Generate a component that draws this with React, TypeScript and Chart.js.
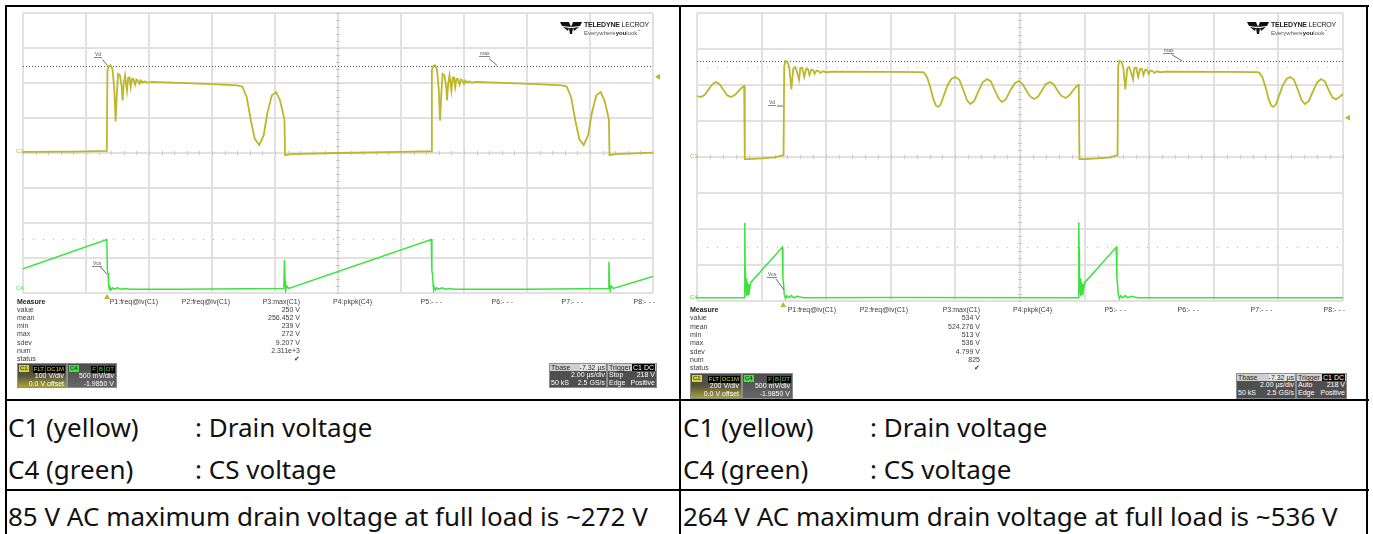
import React, { useEffect, useRef } from "react";
import { Chart, registerables } from "chart.js";
Chart.register(...registerables);

// ---------------- DATA ----------------
// Left capture (85 V AC): time in µs (2 µs/div), C1 drain volts, C4 CS volts
const leftDrainTime = [0, 1.6, 2.66, 2.68, 2.72, 2.78, 2.84, 2.9, 2.94, 2.98, 3.02, 3.08, 3.14, 3.16, 3.2, 3.24, 3.3, 3.34, 3.38, 3.42, 3.46, 3.5, 3.56, 3.6, 3.64, 3.7, 3.74, 3.8, 3.86, 3.94, 4.1, 6.0, 6.8, 6.96, 7.1, 7.24, 7.36, 7.5, 7.64, 7.76, 7.9, 8.04, 8.16, 8.24, 8.3, 8.32, 8.5, 10.0, 12.0, 12.96, 12.98, 13.02, 13.08, 13.14, 13.2, 13.24, 13.28, 13.32, 13.38, 13.44, 13.46, 13.5, 13.54, 13.6, 13.64, 13.68, 13.72, 13.76, 13.8, 13.86, 13.9, 13.94, 14.0, 14.04, 14.1, 14.16, 14.24, 14.4, 16.3, 17.1, 17.26, 17.4, 17.54, 17.66, 17.8, 17.94, 18.06, 18.2, 18.34, 18.46, 18.54, 18.6, 18.62, 18.8, 20.0];
const leftDrainVolts = [3, 4, 6, 235, 248, 251, 240, 180, 90, 170, 226, 222, 185, 150, 200, 222, 178, 215, 216, 188, 212, 212, 195, 210, 208, 198, 207, 201, 205, 201, 203, 197, 193, 190, 160, 90, 40, 23, 50, 115, 165, 174, 150, 120, 95, -6, -3, 0, 3, 5, 235, 248, 251, 240, 180, 92, 170, 226, 222, 185, 150, 200, 222, 178, 215, 216, 188, 212, 212, 195, 210, 208, 198, 207, 201, 205, 201, 203, 197, 193, 190, 160, 90, 40, 23, 50, 115, 165, 174, 150, 120, 95, -6, -3, 1];
const leftCsTime = [0, 2.66, 2.68, 2.7, 2.72, 2.74, 2.76, 2.8, 2.84, 2.9, 3.0, 3.1, 3.24, 3.4, 5.0, 7.0, 8.28, 8.3, 8.32, 8.34, 8.38, 8.44, 12.96, 12.98, 13.0, 13.02, 13.04, 13.06, 13.1, 13.14, 13.2, 13.3, 13.4, 13.54, 13.7, 16.0, 18.58, 18.6, 18.62, 18.64, 18.68, 18.74, 20.0];
const leftCsVolts = [0.33, 0.75, 0.3, 0.26, 0.1, 0.03, 0.07, 0.03, 0.06, 0.04, 0.06, 0.04, 0.05, 0.04, 0.04, 0.045, 0.05, 0.46, 0.15, 0.02, 0.08, 0.05, 0.75, 0.3, 0.26, 0.1, 0.03, 0.07, 0.03, 0.06, 0.04, 0.06, 0.04, 0.05, 0.04, 0.04, 0.05, 0.43, 0.15, 0.02, 0.08, 0.05, 0.22];

// Right capture (264 V AC)
const rightDrainTime = [0, 0.12, 0.24, 0.36, 0.48, 0.58, 0.7, 0.82, 0.94, 1.06, 1.18, 1.3, 1.42, 1.46, 1.48, 1.6, 2.0, 2.4, 2.62, 2.68, 2.7, 2.74, 2.8, 2.86, 2.92, 2.98, 3.04, 3.1, 3.16, 3.2, 3.26, 3.32, 3.38, 3.44, 3.48, 3.54, 3.6, 3.64, 3.7, 3.76, 3.82, 3.9, 4.0, 4.2, 6.0, 6.9, 7.02, 7.12, 7.22, 7.32, 7.4, 7.46, 7.54, 7.64, 7.76, 7.88, 8.0, 8.12, 8.24, 8.36, 8.46, 8.58, 8.7, 8.84, 8.98, 9.1, 9.22, 9.34, 9.44, 9.56, 9.7, 9.84, 9.96, 10.08, 10.2, 10.32, 10.44, 10.56, 10.68, 10.8, 10.92, 11.04, 11.16, 11.28, 11.42, 11.54, 11.66, 11.78, 11.82, 11.84, 12.0, 12.4, 12.8, 12.96, 13.02, 13.04, 13.08, 13.14, 13.2, 13.26, 13.32, 13.38, 13.44, 13.5, 13.54, 13.6, 13.66, 13.72, 13.78, 13.82, 13.88, 13.94, 13.98, 14.04, 14.1, 14.16, 14.24, 14.34, 14.54, 16.4, 17.28, 17.4, 17.5, 17.6, 17.7, 17.78, 17.84, 17.92, 18.02, 18.14, 18.26, 18.36, 18.48, 18.6, 18.72, 18.82, 18.94, 19.06, 19.2, 19.32, 19.44, 19.56, 19.68, 19.78, 19.9, 20.0];
const rightDrainVolts = [338, 333, 345, 375, 405, 417, 405, 372, 342, 333, 345, 370, 390, 394, -12, -12, -8, -2, 8, 10, 505, 534, 530, 495, 376, 490, 500, 470, 430, 495, 495, 445, 490, 488, 455, 485, 482, 462, 480, 478, 467, 476, 471, 474, 473, 472, 470, 445, 390, 320, 285, 278, 290, 340, 400, 435, 444, 430, 375, 315, 294, 310, 360, 415, 433, 420, 370, 325, 306, 320, 370, 410, 422, 405, 368, 335, 322, 335, 370, 405, 417, 405, 370, 340, 328, 345, 375, 398, 400, -12, -12, -8, -2, 8, 10, 505, 534, 530, 495, 376, 490, 500, 470, 430, 495, 495, 445, 490, 488, 455, 485, 482, 462, 480, 478, 467, 476, 471, 474, 473, 472, 470, 445, 390, 320, 285, 278, 290, 340, 400, 435, 444, 430, 375, 315, 294, 310, 360, 415, 433, 420, 370, 330, 320, 335, 350];
const rightCsTime = [0, 1.46, 1.48, 1.49, 1.5, 1.52, 1.54, 1.56, 1.58, 1.6, 1.62, 1.66, 2.64, 2.66, 2.68, 2.7, 2.74, 2.78, 2.84, 2.92, 3.0, 3.1, 3.3, 6.0, 11.8, 11.82, 11.83, 11.84, 11.86, 11.88, 11.9, 11.92, 11.94, 11.96, 12.0, 12.98, 13.0, 13.02, 13.04, 13.08, 13.12, 13.18, 13.26, 13.34, 13.44, 13.64, 20.0];
const rightCsVolts = [0.03, 0.03, 1.07, 0.45, 0.1, 0.3, 0.05, 0.25, 0.08, 0.22, 0.12, 0.24, 0.73, 0.3, 0.22, 0.08, 0.02, 0.06, 0.03, 0.06, 0.03, 0.05, 0.03, 0.035, 0.03, 1.08, 0.7, 0.1, 0.3, 0.05, 0.25, 0.08, 0.22, 0.12, 0.24, 0.73, 0.3, 0.22, 0.08, 0.02, 0.06, 0.03, 0.06, 0.03, 0.05, 0.03, 0.03];

// Measurement table text
const measureRows = ["value", "mean", "min", "max", "sdev", "num", "status"];
const paramHeaders = ["P1:freq@lv(C1)", "P2:freq@lv(C1)", "P3:max(C1)", "P4:pkpk(C4)", "P5:- - -", "P6:- - -", "P7:- - -", "P8:- - -"];
const leftP3Values = ["250 V", "256.452 V", "239 V", "272 V", "9.207 V", "2.311e+3", "\u2714"];
const rightP3Values = ["534 V", "524.276 V", "513 V", "536 V", "4.799 V", "825", "\u2714"];

// ---------------- STYLE ----------------
const C1_COLOR = "#bdb72b";
const C4_COLOR = "#3ee23e";
const GRID_COLOR = "#e1e1e1";
const SCOPE_FONT = "'Liberation Sans', Arial, sans-serif";
const TABLE_FONT = "'Noto Sans', 'Open Sans', sans-serif";

const toPoints = (t: number[], v: number[]) => t.map((x, i) => ({ x, y: v[i] }));

const scopeExtras = {
  id: "scopeExtras",
  beforeDatasetsDraw(chart: any, _a: any, o: any) {
    const { ctx, chartArea: a, scales } = chart;
    const xs = scales.x, ys = scales.y, y2 = scales.y2;
    ctx.save();
    const cx = xs.getPixelForValue(10);
    const cy = ys.getPixelForValue(0);
    ctx.strokeStyle = "#c8c8c8";
    ctx.lineWidth = 1;
    for (let i = 0; i <= 50; i++) {
      const px = Math.round(a.left + (i * (a.right - a.left)) / 50) + 0.5;
      ctx.beginPath();
      ctx.moveTo(px, cy - 2);
      ctx.lineTo(px, cy + 2);
      ctx.stroke();
    }
    for (let i = 0; i <= 40; i++) {
      const py = Math.round(a.top + (i * (a.bottom - a.top)) / 40) + 0.5;
      ctx.beginPath();
      ctx.moveTo(cx - 2, py);
      ctx.lineTo(cx + 2, py);
      ctx.stroke();
    }
    ctx.setLineDash([1, 9]);
    ctx.strokeStyle = "#bdbdbd";
    for (const lv of o.faintC1 || []) {
      const py = Math.round(ys.getPixelForValue(lv)) + 0.5;
      ctx.beginPath(); ctx.moveTo(a.left, py); ctx.lineTo(a.right, py); ctx.stroke();
    }
    for (const lv of o.faintC4 || []) {
      const py = Math.round(y2.getPixelForValue(lv)) + 0.5;
      ctx.beginPath(); ctx.moveTo(a.left, py); ctx.lineTo(a.right, py); ctx.stroke();
    }
    ctx.setLineDash([1, 2]);
    ctx.strokeStyle = "#555";
    const my = Math.round(ys.getPixelForValue(o.cursorV)) + 0.5;
    ctx.beginPath(); ctx.moveTo(a.left, my); ctx.lineTo(a.right, my); ctx.stroke();
    ctx.restore();
  },
  afterDatasetsDraw(chart: any, _a: any, o: any) {
    const { ctx, chartArea: a, scales } = chart;
    const xs = scales.x, ys = scales.y, y2 = scales.y2;
    ctx.save();
    ctx.fillStyle = C1_COLOR;
    const ty = ys.getPixelForValue(o.triggerV);
    ctx.beginPath();
    ctx.moveTo(a.right + 2, ty);
    ctx.lineTo(a.right + 7, ty - 3);
    ctx.lineTo(a.right + 7, ty + 3);
    ctx.closePath();
    ctx.fill();
    const tx = xs.getPixelForValue(o.triggerT);
    ctx.beginPath();
    ctx.moveTo(tx, a.bottom + 1);
    ctx.lineTo(tx - 3, a.bottom + 6);
    ctx.lineTo(tx + 3, a.bottom + 6);
    ctx.closePath();
    ctx.fill();
    ctx.strokeStyle = "#6a6a6a";
    ctx.lineWidth = 1;
    for (const l of o.leaders || []) {
      const scale = l.ch === 4 ? y2 : ys;
      const px = xs.getPixelForValue(l.t);
      const py = scale.getPixelForValue(l.v);
      ctx.beginPath();
      ctx.moveTo(px + l.dx, py + l.dy);
      ctx.lineTo(px, py);
      ctx.stroke();
    }
    ctx.restore();
  },
};

type ScopeProps = {
  left: number; top: number; width: number; height: number;
  padding: { left: number; right: number; top: number; bottom: number };
  drainT: number[]; drainV: number[]; csT: number[]; csV: number[];
  vPerDiv: number; extras: any;
};

function ScopeChart(p: ScopeProps) {
  const ref = useRef<HTMLCanvasElement>(null);
  useEffect(() => {
    if (!ref.current) return;
    const grid = { color: GRID_COLOR, lineWidth: 2, drawTicks: false };
    const chart = new Chart(ref.current, {
      type: "line",
      data: {
        datasets: [
          { data: toPoints(p.drainT, p.drainV), borderColor: C1_COLOR, borderWidth: 1.8, yAxisID: "y", pointRadius: 0, tension: 0 },
          { data: toPoints(p.csT, p.csV), borderColor: C4_COLOR, borderWidth: 1.5, yAxisID: "y2", pointRadius: 0, tension: 0 },
        ],
      },
      options: {
        animation: false,
        responsive: false,
        maintainAspectRatio: false,
        parsing: false,
        layout: { padding: p.padding },
        plugins: { legend: { display: false }, tooltip: { enabled: false }, scopeExtras: p.extras } as any,
        scales: {
          x: { type: "linear", min: 0, max: 20, ticks: { display: false, stepSize: 2 }, grid, border: { display: false } },
          y: { type: "linear", min: -4 * p.vPerDiv, max: 4 * p.vPerDiv, ticks: { display: false, stepSize: p.vPerDiv }, grid, border: { display: false } },
          y2: { type: "linear", display: false, min: -0.015, max: 3.985 },
        },
      },
      plugins: [scopeExtras],
    });
    return () => chart.destroy();
  }, []);
  return (
    <canvas ref={ref} width={p.width} height={p.height}
      style={{ position: "absolute", left: p.left, top: p.top, width: p.width, height: p.height }} />
  );
}

const abs = (left: number, top: number, extra: React.CSSProperties = {}): React.CSSProperties => ({
  position: "absolute", left, top, whiteSpace: "nowrap", ...extra,
});

function SmallText({ x, y, text, right, bold, color, size }: { x: number; y: number; text: string; right?: boolean; bold?: boolean; color?: string; size?: number }) {
  return (
    <div style={abs(x, y - 5, {
      fontFamily: SCOPE_FONT, fontSize: size || 7, lineHeight: "10px", color: color || "#3c3c3c",
      fontWeight: bold ? 700 : 400, transform: right ? "translateX(-100%)" : undefined,
    })}>{text}</div>
  );
}

function Measure({ x, y0, rowH, colRights, values }: { x: number; y0: number; rowH: number; colRights: number[]; values: string[] }) {
  return (
    <>
      <SmallText x={x} y={y0} text="Measure" bold color="#222" />
      {measureRows.map((r, i) => <SmallText key={r} x={x} y={y0 + rowH * (i + 1)} text={r} />)}
      {paramHeaders.map((h, i) => <SmallText key={h} x={colRights[i]} y={y0} text={h} right />)}
      {values.map((v, i) => <SmallText key={i} x={colRights[2]} y={y0 + rowH * (i + 1)} text={v} right />)}
    </>
  );
}

const tag = (bg: string, color: string): React.CSSProperties => ({
  background: bg, color, padding: "0 1px", marginLeft: 1, lineHeight: "7px", fontSize: 6, display: "inline-block",
});

function Badge({ x, y, w, h, label, labelBg, tags, tagColor, line1, line2, bg }: any) {
  return (
    <div style={abs(x, y, { width: w, height: h, background: bg, border: "1px solid #8d8d8d", boxSizing: "border-box", fontFamily: SCOPE_FONT, color: "#fff", fontSize: 7, overflow: "hidden" })}>
      <div style={{ display: "flex", justifyContent: "space-between", padding: "1px 1px 0 1px", height: 7 }}>
        <span style={{ background: labelBg, color: "#111", fontSize: 6, lineHeight: "7px", padding: "0 1px" }}>{label}</span>
        <span>{tags.map((t: string) => <span key={t} style={tag("#000", tagColor)}>{t}</span>)}</span>
      </div>
      <div style={{ textAlign: "right", paddingRight: 2, lineHeight: "8px" }}>{line1}</div>
      <div style={{ textAlign: "right", paddingRight: 2, lineHeight: "8px" }}>{line2}</div>
    </div>
  );
}

function InfoBox({ x, y, w, h, head, headRight, headTagDark, rows }: any) {
  return (
    <div style={abs(x, y, { width: w, height: h, background: "#4f4f4f", border: "1px solid #8d8d8d", boxSizing: "border-box", fontFamily: SCOPE_FONT, fontSize: 7, color: "#fff", overflow: "hidden" })}>
      <div style={{ display: "flex", justifyContent: "space-between", background: "#cfcfcf", color: "#222", lineHeight: "7px", height: 7, padding: "0 1px" }}>
        <span>{head}</span>
        {headTagDark ? <span style={{ background: "#000", color: "#fff", padding: "0 1px" }}>{headRight}</span> : <span style={{ background: "#e6e6e6" }}>{headRight}</span>}
      </div>
      {rows.map((r: string[], i: number) => (
        <div key={i} style={{ display: "flex", justifyContent: "space-between", lineHeight: "8px", padding: "0 1px" }}>
          <span>{r[0]}</span><span>{r[1]}</span>
        </div>
      ))}
    </div>
  );
}

function Logo({ x, y }: { x: number; y: number }) {
  return (
    <div style={abs(x, y, { fontFamily: SCOPE_FONT })}>
      <svg width="22" height="13" style={{ position: "absolute", left: 0, top: 0 }}>
        <polygon points="0,1 9,1 11,6 2,5" fill="#111" />
        <polygon points="13,1 22,1 20,5 11,6" fill="#111" />
        <polygon points="9,7 13,7 12,13 10,13" fill="#111" />
        <polygon points="3,6 9,7 8,10" fill="#111" />
        <polygon points="19,6 13,7 14,10" fill="#111" />
      </svg>
      <div style={{ position: "absolute", left: 24, top: 0, fontSize: 7, lineHeight: "7px", fontWeight: 700, color: "#222", letterSpacing: -0.2 }}>
        TELEDYNE <span style={{ fontWeight: 400 }}>LECROY</span>
      </div>
      <div style={{ position: "absolute", left: 24, top: 7, fontSize: 6, lineHeight: "7px", color: "#555" }}>
        Everywhere<b style={{ color: "#222" }}>you</b>look<sup style={{ fontSize: 3 }}>™</sup>
      </div>
    </div>
  );
}

function CursorLabel({ x, y, text }: { x: number; y: number; text: string }) {
  return (
    <div style={abs(x, y, { fontFamily: SCOPE_FONT, fontSize: 5, lineHeight: "5px", color: "#555", borderBottom: "1px solid #888", padding: "0 1px" })}>{text}</div>
  );
}

const hLine = (x: number, y: number, w: number) => <div style={abs(x, y, { width: w, height: 2, background: "#000" })} />;
const vLine = (x: number, y: number, h: number) => <div style={abs(x, y, { width: 2, height: h, background: "#000" })} />;

function TableText({ x, y, text }: { x: number; y: number; text: string }) {
  return <div style={abs(x, y - 18, { fontFamily: TABLE_FONT, fontSize: 26, lineHeight: "36px", color: "#111" })}>{text}</div>;
}

export default function App() {
  const leftCols = [158, 230, 300, 372, 442, 513, 583, 655];
  const rightCols = [836, 908, 980, 1052, 1126, 1199, 1272, 1345];
  return (
    <div style={{ position: "absolute", left: 0, top: 0, width: 1373, height: 534, background: "#fff", overflow: "hidden" }}>
      <ScopeChart left={13} top={5} width={660} height={300}
        padding={{ left: 10, right: 20, top: 8, bottom: 12 }}
        drainT={leftDrainTime} drainV={leftDrainVolts} csT={leftCsTime} csV={leftCsVolts} vPerDiv={100}
        extras={{
          cursorV: 250, triggerV: 218, triggerT: 2.67, faintC4: [0.75],
          leaders: [
            { ch: 1, t: 2.68, v: 250, dx: -5, dy: -6 },
            { ch: 1, t: 15.05, v: 250, dx: -8, dy: -7 },
            { ch: 4, t: 2.67, v: 0.25, dx: -7, dy: -8 },
          ],
        }} />
      <ScopeChart left={687} top={5} width={670} height={306}
        padding={{ left: 10, right: 14, top: 8, bottom: 10 }}
        drainT={rightDrainTime} drainV={rightDrainVolts} csT={rightCsTime} csV={rightCsVolts} vPerDiv={200}
        extras={{
          cursorV: 534, triggerV: 218, triggerT: 2.67, faintC1: [500], faintC4: [0.73],
          leaders: [
            { ch: 1, t: 2.66, v: 283, dx: -6, dy: 0 },
            { ch: 1, t: 15.02, v: 534, dx: -10, dy: -6 },
            { ch: 4, t: 2.69, v: 0.14, dx: -8, dy: -11 },
          ],
        }} />

      <SmallText x={16} y={151} text="C1" color={C1_COLOR} size={6} />
      <SmallText x={16} y={288} text="C4" color={C4_COLOR} size={6} />
      <SmallText x={690} y={156} text="C1" color={C1_COLOR} size={6} />
      <SmallText x={690} y={297} text="C4" color={C4_COLOR} size={6} />

      <CursorLabel x={94} y={52} text="Vd" />
      <CursorLabel x={479} y={51} text="max" />
      <CursorLabel x={92} y={261} text="Vcs" />
      <CursorLabel x={768} y={100} text="Vd" />
      <CursorLabel x={1163} y={48} text="max" />
      <CursorLabel x={767} y={272} text="Vcs" />

      <Logo x={560} y={21} />
      <Logo x={1247} y={21} />

      <Measure x={17} y0={302} rowH={8.1} colRights={leftCols} values={leftP3Values} />
      <Measure x={690} y0={310} rowH={8.3} colRights={rightCols} values={rightP3Values} />

      <Badge x={17} y={363} w={50} h={25} label="C1" labelBg="#d6d13a" tags={["FLT", "DC1M"]} tagColor="#d6d13a"
        line1="100 V/div" line2="0.0 V offset" bg="linear-gradient(#4a4a4a 0%, #55543f 50%, #a7a23a 100%)" />
      <Badge x={67} y={363} w={50} h={25} label="C4" labelBg={C4_COLOR} tags={["F", "B", "DT"]} tagColor={C4_COLOR}
        line1="500 mV/div" line2="-1.9850 V" bg="linear-gradient(#4c4c4c, #666)" />
      <InfoBox x={549} y={363} w={58} h={25} head="Tbase" headRight="-7.32 µs"
        rows={[["", "2.00 µs/div"], ["50 kS", "2.5 GS/s"]]} />
      <InfoBox x={607} y={363} w={50} h={25} head="Trigger" headRight="C1 DC" headTagDark
        rows={[["Stop", "218 V"], ["Edge", "Positive"]]} />

      <Badge x={690} y={373} w={52} h={26} label="C1" labelBg="#d6d13a" tags={["FLT", "DC1M"]} tagColor="#d6d13a"
        line1="200 V/div" line2="0.0 V offset" bg="linear-gradient(#4a4a4a 0%, #55543f 50%, #a7a23a 100%)" />
      <Badge x={742} y={373} w={51} h={26} label="C4" labelBg={C4_COLOR} tags={["F", "B", "DT"]} tagColor={C4_COLOR}
        line1="500 mV/div" line2="-1.9850 V" bg="linear-gradient(#4c4c4c, #666)" />
      <InfoBox x={1236} y={373} w={60} h={26} head="Tbase" headRight="-7.32 µs"
        rows={[["", "2.00 µs/div"], ["50 kS", "2.5 GS/s"]]} />
      <InfoBox x={1296} y={373} w={51} h={26} head="Trigger" headRight="C1 DC" headTagDark
        rows={[["Auto", "218 V"], ["Edge", "Positive"]]} />

      {hLine(5, 5, 1364)}
      {hLine(5, 399, 1364)}
      {hLine(5, 489, 1364)}
      {vLine(5, 5, 529)}
      {vLine(679, 5, 529)}
      {vLine(1366, 5, 529)}

      <TableText x={8} y={427} text="C1 (yellow)" />
      <TableText x={195} y={427} text=": Drain voltage" />
      <TableText x={8} y={469} text="C4 (green)" />
      <TableText x={195} y={469} text=": CS voltage" />
      <TableText x={8} y={516} text="85 V AC maximum drain voltage at full load is ~272 V" />
      <TableText x={683} y={427} text="C1 (yellow)" />
      <TableText x={870} y={427} text=": Drain voltage" />
      <TableText x={683} y={469} text="C4 (green)" />
      <TableText x={870} y={469} text=": CS voltage" />
      <TableText x={683} y={516} text="264 V AC maximum drain voltage at full load is ~536 V" />
    </div>
  );
}
